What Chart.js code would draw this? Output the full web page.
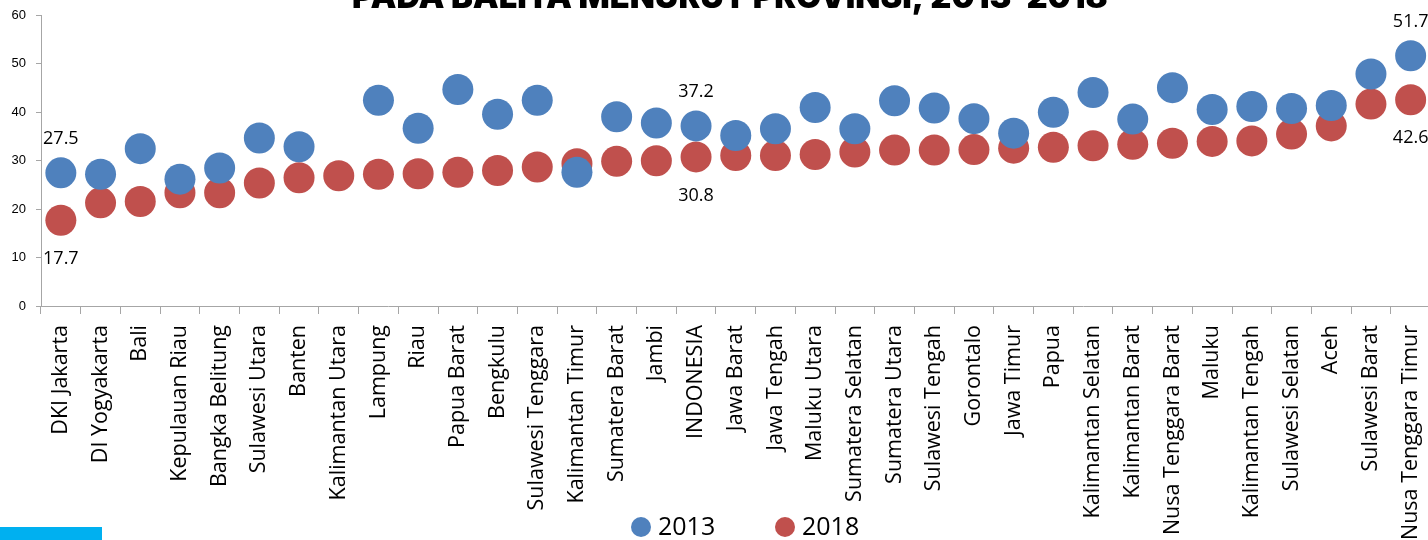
<!DOCTYPE html>
<html><head><meta charset="utf-8">
<script src="https://cdn.jsdelivr.net/npm/chart.js@4.4.1/dist/chart.umd.min.js"></script>
<style>
html,body{margin:0;padding:0;overflow:hidden;background:#fff;width:1428px;height:540px}
#wrap{position:relative;width:1446px;height:540px}
#bar{position:absolute;left:0;top:527px;width:102px;height:13px;background:#00B0F0}
</style></head><body>
<div id="wrap"><canvas id="c" width="1446" height="540"></canvas><div id="bar"></div></div>
<script>
const categories = ['DKI Jakarta','DI Yogyakarta','Bali','Kepulauan Riau','Bangka Belitung','Sulawesi Utara','Banten','Kalimantan Utara','Lampung','Riau','Papua Barat','Bengkulu','Sulawesi Tenggara','Kalimantan Timur','Sumatera Barat','Jambi','INDONESIA','Jawa Barat','Jawa Tengah','Maluku Utara','Sumatera Selatan','Sumatera Utara','Sulawesi Tengah','Gorontalo','Jawa Timur','Papua','Kalimantan Selatan','Kalimantan Barat','Nusa Tenggara Barat','Maluku','Kalimantan Tengah','Sulawesi Selatan','Aceh','Sulawesi Barat','Nusa Tenggara Timur'];
const values2013 = [27.5,27.2,32.5,26.2,28.5,34.7,32.9,null,42.5,36.7,44.7,39.6,42.5,27.6,39.1,37.8,37.2,35.2,36.6,41.0,36.6,42.4,40.9,38.7,35.7,40.0,44.1,38.6,45.1,40.6,41.2,40.8,41.4,47.9,51.7];
const values2018 = [17.7,21.3,21.6,23.4,23.4,25.4,26.5,26.9,27.2,27.3,27.6,28.0,28.7,29.4,29.9,30.0,30.8,31.1,31.1,31.3,31.8,32.2,32.2,32.3,32.6,32.8,33.1,33.4,33.6,34.0,34.1,35.5,37.2,41.7,42.6];
const seriesNames = ['2013','2018'];
const labeledIndices = [0,16,34];
const yMin = 0, yMax = 60, yStep = 10;
const titleText = 'PADA BALITA MENURUT PROVINSI, 2013-2018';

const BLUE = '#4F81BD', RED = '#C0504D', AXIS = '#A6A6A6';

const titlePlugin = {
  id:'titleLine',
  afterDraw(chart){
    const ctx = chart.ctx; ctx.save();
    ctx.fillStyle = '#000';
    let size = 30;
    ctx.font = `900 ${size}px Inter`;
    const w = ctx.measureText(titleText).width;
    size = size * 756 / w;
    ctx.font = `900 ${size}px Inter`;
    ctx.textAlign = 'left'; ctx.textBaseline = 'alphabetic';
    ctx.fillText(titleText, 352, 8);
    ctx.restore();
  }
};

const dataLabelPlugin = {
  id:'dataLabels',
  afterDatasetsDraw(chart){
    const ctx = chart.ctx; ctx.save();
    ctx.font = '18px "Open Sans"'; ctx.fillStyle = '#000';
    ctx.textAlign = 'center'; ctx.textBaseline = 'middle';
    chart.data.datasets.forEach((ds, di) => {
      const meta = chart.getDatasetMeta(di);
      labeledIndices.forEach(i => {
        const v = ds.data[i]; if (v == null) return;
        const p = meta.data[i];
        ctx.fillText(v.toFixed(1), p.x, p.y + (di === 0 ? -34 : 38.5));
      });
    });
    ctx.restore();
  }
};

const legendPlugin = {
  id:'customLegend',
  afterDraw(chart){
    const ctx = chart.ctx; ctx.save();
    const items = [{cx:641, tx:658}, {cx:785, tx:802}];
    ctx.font = '25px "Open Sans"'; ctx.textAlign = 'left'; ctx.textBaseline = 'alphabetic';
    chart.data.datasets.forEach((ds, di) => {
      const it = items[di];
      ctx.fillStyle = ds.backgroundColor;
      ctx.beginPath(); ctx.arc(it.cx, 527, 10, 0, Math.PI*2); ctx.fill();
      ctx.fillStyle = '#000';
      ctx.fillText(ds.label, it.tx, 535);
    });
    ctx.restore();
  }
};

new Chart(document.getElementById('c'), {
  type:'line',
  data:{
    labels: categories,
    datasets:[
      {label:seriesNames[0], data:values2013, backgroundColor:BLUE, borderColor:BLUE, showLine:false, pointRadius:15.5, pointHoverRadius:15.5, pointBorderWidth:0},
      {label:seriesNames[1], data:values2018, backgroundColor:RED, borderColor:RED, showLine:false, pointRadius:15.5, pointHoverRadius:15.5, pointBorderWidth:0}
    ]
  },
  options:{
    responsive:false, animation:false, events:[],
    layout:{padding:{top:15,left:0,right:0,bottom:0}},
    plugins:{legend:{display:false}, title:{display:false}, tooltip:{enabled:false}},
    scales:{
      x:{
        offset:true,
        grid:{offset:true, drawOnChartArea:false, drawTicks:true, tickLength:8, color:AXIS},
        border:{display:true, color:AXIS, width:1},
        ticks:{autoSkip:false, minRotation:90, maxRotation:90, padding:11, color:'#000', font:{family:'"Open Sans"', size:21.5}},
        afterFit(s){ s.height = 234; s.paddingLeft = 0; s.paddingRight = 0; }
      },
      y:{
        min:yMin, max:yMax,
        grid:{drawOnChartArea:false, drawTicks:true, tickLength:5, color:AXIS},
        border:{display:true, color:AXIS, width:1},
        ticks:{stepSize:yStep, padding:10, color:'#000', font:{family:'"Liberation Sans"', size:13}},
        afterFit(s){ s.width = 41; s.paddingTop = 0; s.paddingBottom = 0; }
      }
    }
  },
  plugins:[titlePlugin, dataLabelPlugin, legendPlugin]
});
</script>
</body></html>
